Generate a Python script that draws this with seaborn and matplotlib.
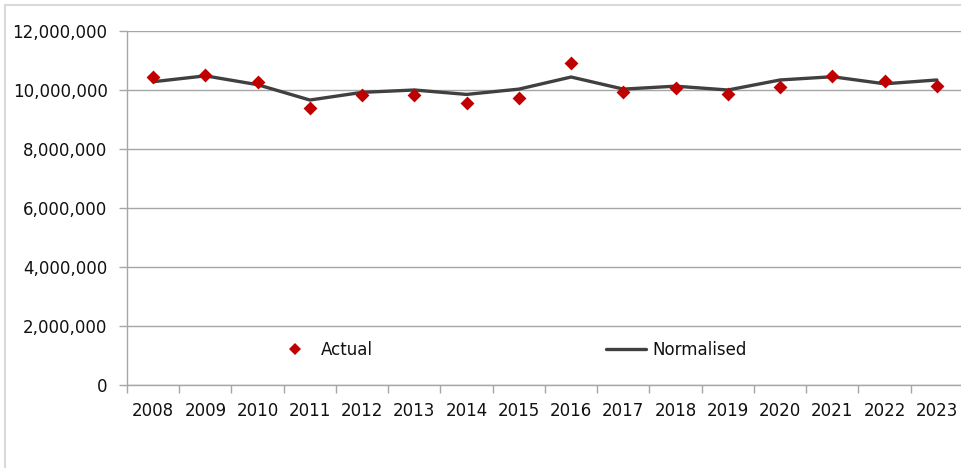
import matplotlib
matplotlib.use("Agg")
import matplotlib.pyplot as plt
import matplotlib.ticker as mticker
from matplotlib.lines import Line2D
import seaborn as sns
import pandas as pd

years = ["2008", "2009", "2010", "2011", "2012", "2013", "2014", "2015",
         "2016", "2017", "2018", "2019", "2020", "2021", "2022", "2023"]
actual = [10450000, 10520000, 10280000, 9400000, 9840000, 9840000, 9570000, 9740000,
          10900000, 9940000, 10080000, 9860000, 10100000, 10480000, 10320000, 10150000]
normalised = [10280000, 10480000, 10180000, 9660000, 9920000, 10000000, 9850000, 10030000,
              10440000, 10030000, 10130000, 10000000, 10340000, 10450000, 10210000, 10340000]

df = pd.DataFrame({"year": years, "pos": range(len(years)),
                   "Actual": actual, "Normalised": normalised})

sns.set_theme(style="white")
plt.rcParams["font.family"] = ["DejaVu Sans"]

fig = plt.figure(figsize=(9.62, 4.68), dpi=100)
ax = fig.add_axes([127 / 962, 83 / 468, (963 - 127) / 962, (385 - 31) / 468])

red = "#C00000"
dark = "#404040"
grid_c = "#A6A6A6"

sns.lineplot(data=df, x="pos", y="Normalised", ax=ax, color=dark, linewidth=2.4,
             zorder=3)
sns.scatterplot(data=df, x="pos", y="Actual", ax=ax, marker="D", color=red, s=50,
                edgecolor=red, linewidth=0, zorder=4)

ax.set_xlim(-0.5, len(years) - 0.5)
ax.set_ylim(0, 12000000)
ax.yaxis.set_major_locator(mticker.MultipleLocator(2000000))
ax.yaxis.set_major_formatter(mticker.FuncFormatter(lambda v, p: f"{int(v):,}"))
ax.set_xticks(range(len(years)))
ax.set_xticklabels(years)
ax.set_xticks([i - 0.5 for i in range(len(years) + 1)], minor=True)
ax.set_xlabel("")
ax.set_ylabel("")

ax.grid(axis="y", color=grid_c, linewidth=1)
ax.set_axisbelow(True)
for side in ["top", "right"]:
    ax.spines[side].set_visible(False)
for side in ["left", "bottom"]:
    ax.spines[side].set_color(grid_c)
    ax.spines[side].set_linewidth(1)

ax.tick_params(axis="y", which="major", length=6, color=grid_c, width=1,
               labelsize=12, labelcolor="#111111", pad=8, left=True)
ax.tick_params(axis="x", which="major", length=0, labelsize=12,
               labelcolor="#111111", pad=12)
ax.tick_params(axis="x", which="minor", length=6, color=grid_c, width=1, bottom=True)

handles = [
    Line2D([], [], marker="D", color=red, linestyle="none", markersize=6.5,
           markeredgewidth=0),
    Line2D([], [], color=dark, linewidth=2.4),
]
ax.legend(handles, ["Actual", "Normalised"], ncol=2, frameon=False,
          loc="center", bbox_to_anchor=(0.459, 0.1), columnspacing=14,
          handlelength=2.4, handletextpad=0.35, fontsize=12,
          labelcolor="#111111")

# outer chart-area border
fig.add_artist(plt.Rectangle((5 / 962, -0.05), 1.0, (468 - 5) / 468 + 0.05,
                             transform=fig.transFigure, fill=False,
                             edgecolor="#D9D9D9", linewidth=1.5))

fig.savefig("out.png", dpi=100)
